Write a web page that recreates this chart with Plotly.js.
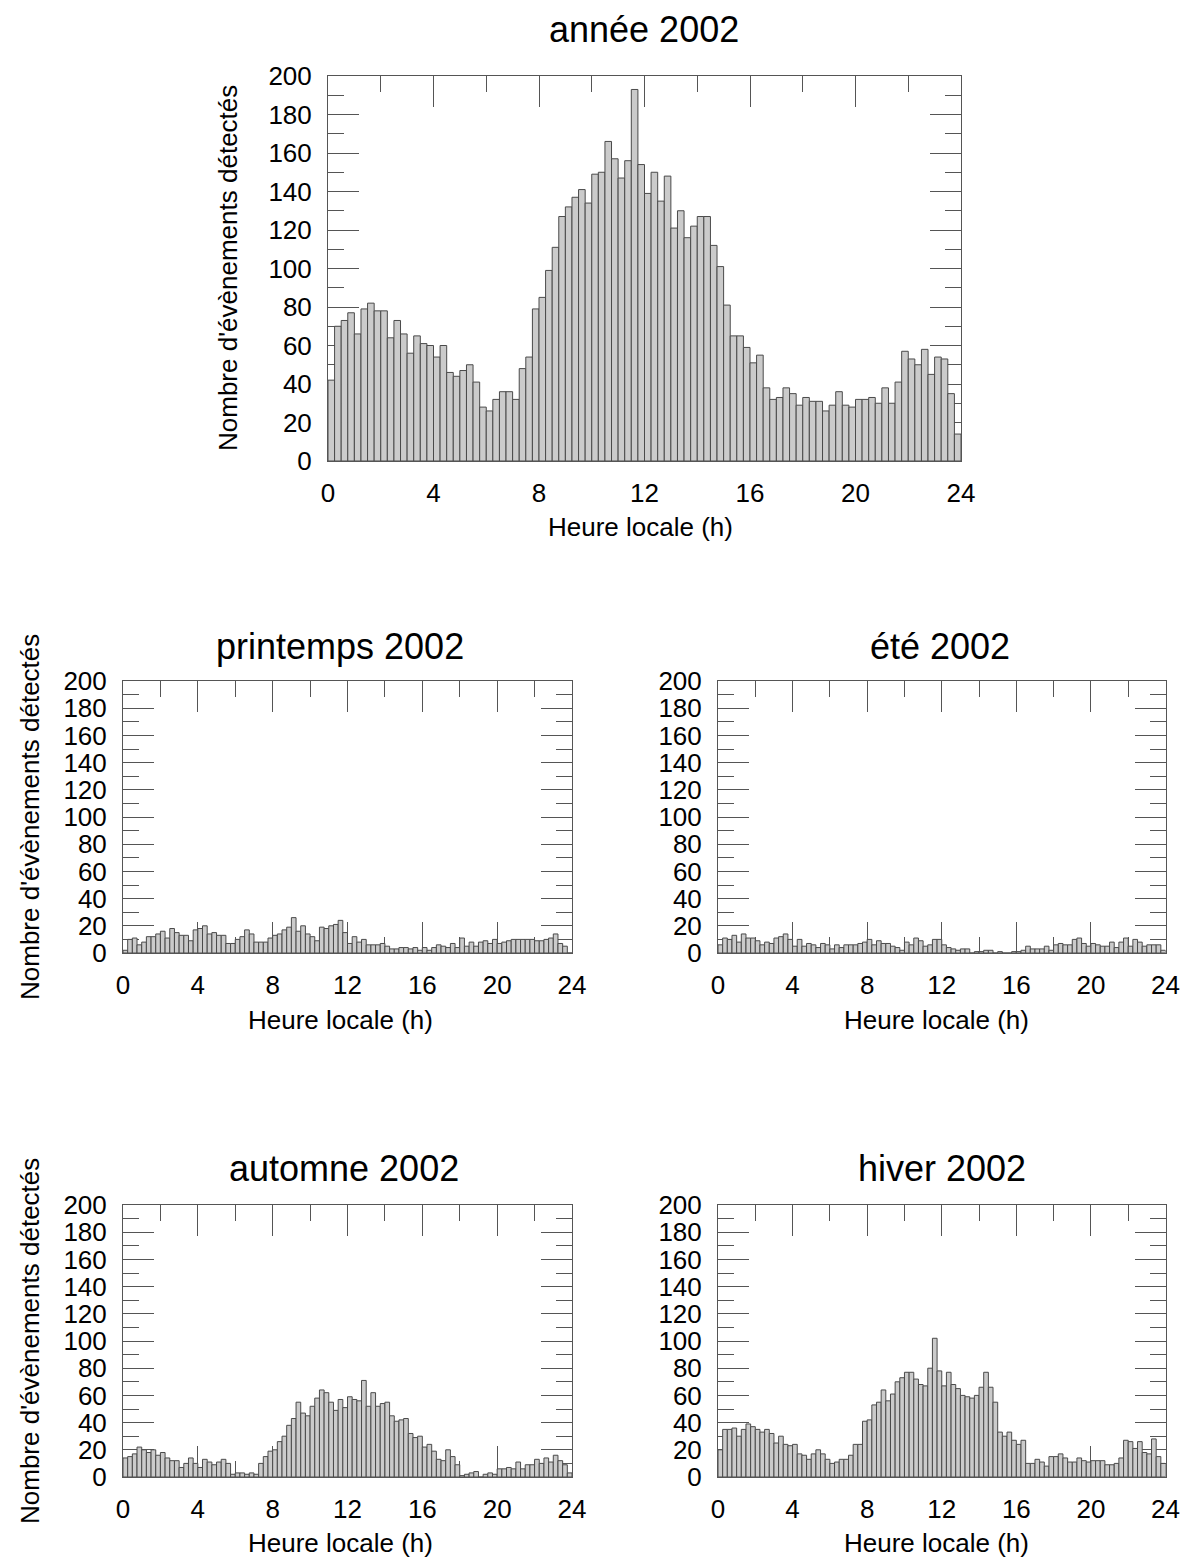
<!DOCTYPE html>
<html>
<head>
<meta charset="utf-8">
<script src="https://cdn.plot.ly/plotly-3.0.1.min.js"></script>
<style>
  html, body { margin: 0; padding: 0; background: #ffffff; }
  #chart { width: 1184px; height: 1557px; }
</style>
</head>
<body>
<div id="chart"></div>
<script>
// ---------------- DATA (counts per quarter-hour bin, 0h .. 24h) ----------------
const binWidthHours = 0.25;
const firstBinCenter = 0.125;

const annee = [
  42, 70, 73, 77, 66, 79, 82, 78, 78, 64, 73, 66, 56, 65, 61, 60,
  54, 60, 46, 44, 47, 50, 41, 28, 26, 32, 36, 36, 32, 48, 54, 79,
  85, 99, 111, 127, 132, 137, 141, 134, 149, 150, 166, 157, 147, 156, 193, 154,
  139, 150, 135, 148, 121, 130, 116, 122, 127, 127, 112, 101, 81, 65, 65, 59,
  51, 55, 38, 32, 33, 38, 35, 29, 33, 31, 31, 26, 29, 36, 29, 28,
  32, 32, 33, 30, 38, 30, 41, 57, 53, 50, 58, 45, 54, 53, 35, 14
];

const printemps = [
  2, 10, 11, 6, 8, 12, 12, 14, 16, 11, 18, 15, 13, 13, 9, 17,
  18, 20, 14, 15, 13, 13, 7, 7, 10, 12, 17, 14, 8, 8, 8, 11,
  13, 14, 17, 19, 26, 16, 20, 14, 12, 9, 19, 18, 20, 21, 24, 15,
  7, 12, 8, 10, 6, 6, 6, 7, 5, 3, 3, 4, 4, 3, 4, 2,
  4, 2, 4, 6, 5, 4, 7, 4, 11, 5, 8, 5, 8, 9, 7, 10,
  7, 8, 9, 10, 10, 10, 10, 10, 9, 9, 10, 11, 14, 7, 5, 0
];

const ete = [
  6, 11, 10, 13, 8, 14, 11, 11, 9, 6, 8, 7, 11, 12, 14, 10,
  5, 10, 5, 7, 6, 4, 7, 6, 3, 6, 4, 6, 6, 6, 7, 8,
  10, 6, 9, 7, 7, 5, 4, 2, 8, 6, 11, 9, 5, 6, 10, 10,
  6, 4, 3, 2, 3, 3, 0, 1, 1, 2, 2, 0, 1, 0, 0, 1,
  1, 2, 5, 3, 3, 3, 5, 2, 6, 7, 6, 6, 10, 11, 7, 5,
  7, 6, 5, 5, 8, 4, 8, 11, 5, 10, 8, 5, 6, 6, 6, 2
];

const automne = [
  14, 15, 17, 22, 20, 18, 20, 16, 18, 14, 12, 12, 7, 10, 14, 10,
  7, 13, 11, 9, 11, 13, 10, 2, 3, 3, 2, 3, 2, 10, 15, 19,
  20, 26, 30, 38, 43, 55, 47, 45, 52, 58, 64, 62, 55, 49, 57, 51,
  59, 57, 56, 71, 52, 62, 52, 54, 55, 45, 41, 42, 43, 32, 29, 30,
  22, 24, 19, 13, 12, 20, 15, 9, 1, 2, 3, 4, 0, 2, 3, 2,
  6, 6, 7, 6, 11, 6, 9, 9, 13, 10, 14, 11, 16, 12, 9, 3
];

const hiver = [
  20, 35, 35, 36, 30, 35, 39, 37, 35, 33, 35, 32, 25, 30, 24, 23,
  24, 17, 16, 13, 17, 20, 17, 13, 10, 11, 13, 13, 16, 24, 24, 41,
  42, 53, 55, 64, 56, 61, 70, 73, 77, 77, 72, 68, 67, 80, 102, 78,
  67, 77, 68, 65, 60, 59, 58, 60, 66, 77, 66, 55, 33, 30, 33, 27,
  24, 27, 10, 10, 13, 11, 8, 15, 15, 17, 14, 11, 11, 14, 12, 11,
  12, 12, 12, 9, 9, 10, 14, 27, 26, 21, 26, 18, 17, 28, 15, 10
];

const panelTitles = ["année 2002", "printemps 2002", "été 2002", "automne 2002", "hiver 2002"];
const xTitle = "Heure locale (h)";
const yTitle = "Nombre d'évènements détectés";
const xRange = [0, 24];
const yRange = [0, 200];

// ---------------- LAYOUT ----------------
const W = 1184, H = 1557;
const px = x => x / W;
const py = y => 1 - y / H;

const FONT = "Liberation Sans, Arial, Helvetica, sans-serif";
const series = [annee, printemps, ete, automne, hiver];

// pixel boxes of each plot frame [left, right, top, bottom]
const boxes = [
  [328, 961, 76, 461],
  [123, 572, 681, 953],
  [718, 1165.5, 681, 953],
  [123, 572, 1205, 1477],
  [718, 1165.5, 1205, 1477]
];
// title centers
const titlePos = [[644, 30], [340, 646], [940, 646], [344, 1168], [942, 1168]];
const xTitlePos = [[640, 527], [340, 1020], [936, 1020], [340, 1543], [936, 1543]];
const yTitlePos = [[228, 268], [30, 817], null, [30, 1341], null];

const traces = [];
const layout = {
  width: W, height: H,
  margin: {l: 0, r: 0, t: 0, b: 0, pad: 0},
  paper_bgcolor: "#ffffff",
  plot_bgcolor: "#ffffff",
  showlegend: false,
  bargap: 0,
  font: {family: FONT, size: 26, color: "#000000"},
  annotations: []
};

const tickColor = "#555555";

series.forEach((vals, i) => {
  const n = i + 1;
  const xa = n === 1 ? "xaxis" : "xaxis" + n;
  const ya = n === 1 ? "yaxis" : "yaxis" + n;
  const xr = n === 1 ? "x" : "x" + n;
  const yr = n === 1 ? "y" : "y" + n;
  const b = boxes[i];

  traces.push({
    type: "bar",
    x0: firstBinCenter,
    dx: binWidthHours,
    y: vals,
    xaxis: xr,
    yaxis: yr,
    marker: {color: "#cbcbcb", line: {color: "#4a4a4a", width: 1}},
    hoverinfo: "skip"
  });

  layout[xa] = {
    domain: [px(b[0]), px(b[1])],
    anchor: yr,
    range: xRange,
    tickmode: "linear", tick0: 0, dtick: 4,
    ticks: "inside", ticklen: 31, tickwidth: 1, tickcolor: tickColor,
    minor: {dtick: 2, tick0: 0, ticks: "inside", ticklen: 16, tickwidth: 1, tickcolor: tickColor, showgrid: false},
    showline: true, linecolor: tickColor, linewidth: 1, mirror: "ticks",
    showgrid: false, zeroline: false,
    layer: "below traces",
    tickfont: {family: FONT, size: 26, color: "#000"},
    ticklabelstandoff: 9,
    fixedrange: true
  };
  layout[ya] = {
    domain: [py(b[3]), py(b[2])],
    anchor: xr,
    range: yRange,
    tickmode: "linear", tick0: 0, dtick: 20,
    ticks: "inside", ticklen: 31, tickwidth: 1, tickcolor: tickColor,
    minor: {dtick: 10, tick0: 0, ticks: "inside", ticklen: 16, tickwidth: 1, tickcolor: tickColor, showgrid: false},
    showline: true, linecolor: tickColor, linewidth: 1, mirror: "ticks",
    showgrid: false, zeroline: false,
    layer: "below traces",
    tickfont: {family: FONT, size: 26, color: "#000"},
    ticklabelstandoff: 10,
    fixedrange: true
  };

  // panel title
  layout.annotations.push({
    text: panelTitles[i], xref: "paper", yref: "paper",
    x: px(titlePos[i][0]), y: py(titlePos[i][1]),
    xanchor: "center", yanchor: "middle", showarrow: false,
    font: {family: FONT, size: 36, color: "#000"}
  });
  // x title
  layout.annotations.push({
    text: xTitle, xref: "paper", yref: "paper",
    x: px(xTitlePos[i][0]), y: py(xTitlePos[i][1]),
    xanchor: "center", yanchor: "middle", showarrow: false,
    font: {family: FONT, size: 26, color: "#000"}
  });
  // y title
  if (yTitlePos[i]) {
    layout.annotations.push({
      text: yTitle, xref: "paper", yref: "paper",
      x: px(yTitlePos[i][0]), y: py(yTitlePos[i][1]),
      xanchor: "center", yanchor: "middle", showarrow: false, textangle: -90,
      font: {family: FONT, size: 26, color: "#000"}
    });
  }
});

Plotly.newPlot("chart", traces, layout, {staticPlot: true, displayModeBar: false});
</script>
</body>
</html>
